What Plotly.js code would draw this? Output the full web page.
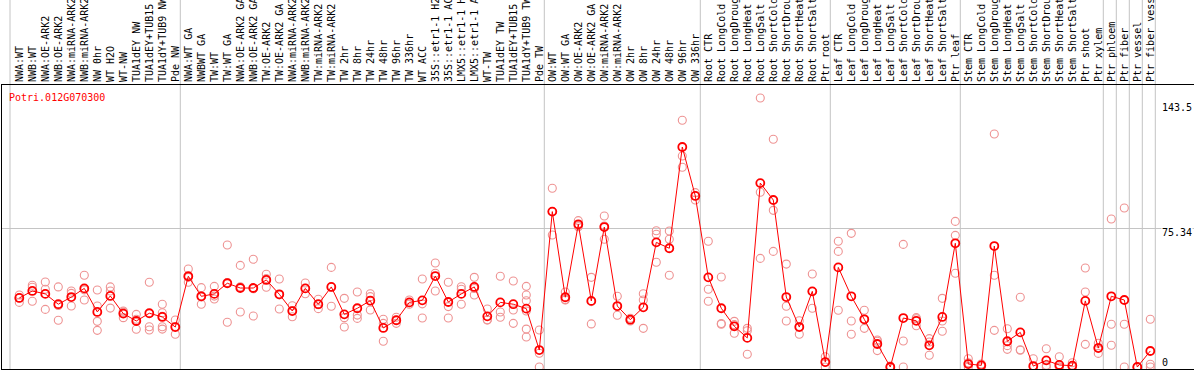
<!DOCTYPE html>
<html><head><meta charset="utf-8">
<script src="https://cdn.plot.ly/plotly-3.0.1.min.js"></script>
<style>html,body{margin:0;padding:0;background:#fff;overflow:hidden}#chart{width:1194px;height:370px}</style>
</head><body><div id="chart"></div>
<script>
const categories = [
 'NWA:WT','NWB:WT','NWA:OE-ARK2','NWB:OE-ARK2','NWA:miRNA-ARK2','NWB:miRNA-ARK2','NW 0hr','WT H2O','WT-NW','TUA1dEY NW','TUA1dEY+TUB15 NW','TUA1dY+TUB9 NW','Pde NW',
 'NWA:WT GA','NWBWT GA','TW:WT','TW:WT GA','NWA:OE-ARK2 GA','NWB:OE-ARK2 GA','TW:OE-ARK2','TW:OE-ARK2 GA','NWA:miRNA-ARK2 GA','NWB:miRNA-ARK2 GA','TW:miRNA-ARK2','TW:miRNA-ARK2 GA',
 'TW 2hr','TW 8hr','TW 24hr','TW 48hr','TW 96hr','TW 336hr','WT ACC','35S::etr1-1 H2O','35S::etr1-1 ACC','LMX5::etr1-1 H2O','LMX5::etr1-1 ACC','WT-TW','TUA1dEY TW','TUA1dEY+TUB15 TW','TUA1dY+TUB9 TW','Pde TW',
 'OW:WT','OW:WT GA','OW:OE-ARK2','OW:OE-ARK2 GA','OW:miRNA-ARK2','OW:miRNA-ARK2 GA','OW 2hr','OW 8hr','OW 24hr','OW 48hr','OW 96hr','OW 336hr',
 'Root CTR','Root LongCold','Root LongDrought','Root LongHeat','Root LongSalt','Root ShortCold','Root ShortDrought','Root ShortHeat','Root ShortSalt','Ptr root',
 'Leaf CTR','Leaf LongCold','Leaf LongDrought','Leaf LongHeat','Leaf LongSalt','Leaf ShortCold','Leaf ShortDrought','Leaf ShortHeat','Leaf ShortSalt','Ptr leaf',
 'Stem CTR','Stem LongCold','Stem LongDrought','Stem LongHeat','Stem LongSalt','Stem ShortCold','Stem ShortDrought','Stem ShortHeat','Stem ShortSalt','Ptr shoot','Ptr xylem',
 'Ptr phloem','Ptr fiber','Ptr vessel','Ptr fiber vessel'
];
const groupSizes = [13, 28, 12, 10, 10, 11, 1, 1, 1, 1];
const meanValues = [
 37.5, 41.3, 39.7, 34.1, 38.0, 42.7, 29.9, 38.6, 29.0, 25.0, 29.2, 27.2, 21.7,
 49.3, 38.4, 39.7, 45.5, 42.9, 42.9, 47.3, 39.5, 30.4, 42.7, 34.1, 43.5, 28.6, 31.9, 36.0, 21.2, 25.4, 35.1, 36.2, 49.4, 35.3, 39.7, 43.5, 27.5, 35.1, 34.1, 31.7, 9.2,
 84.4, 37.9, 77.5, 35.9, 76.0, 33.1, 25.7, 32.4, 67.7, 64.5, 119.5, 92.9,
 48.7, 31.9, 22.1, 15.8, 99.9, 90.7, 38.0, 21.7, 41.1, 2.7,
 54.1, 38.4, 25.9, 12.5, 0.0, 26.6, 25.1, 11.8, 27.2, 67.2,
 1.6, 0.9, 65.7, 14.0, 18.8, 0.5, 3.6, 1.1, 0.7, 35.9, 10.3,
 38.4, 36.4, 0.0, 8.7
];
const replicateValues = [
 [39.1,37.5,35.1],[44.4,43.3,35.7],[46.2,42.2,31.3],[43.5,33.4,25.4],[41.3,40.0,33.1],[49.8,41.9,36.4],[41.8,33.1,24.8,19.9],[43.5,41.3,32.0],[30.4,29.8,26.8],[28.6,25.9,20.5],[46.0,21.9,20.1],[34.1,29.5,27.5,21.9,20.6],[25.5,21.8,17.8],
 [53.2,48.7,46.0],[43.1,38.0,34.1],[43.8,38.5,36.9],[66.3,45.9,24.3],[55.2,43.6,29.9],[58.5,42.5,27.7],[50.4,48.0,43.3],[47.8,39.2,31.5],[33.3,30.6,27.3],[45.6,42.7,39.8],[36.8,33.8,31.7],[54.1,43.3,33.0],
 [37.3,26.8,21.7],[40.7,28.2,26.4],[39.8,38.2,31.0],[25.9,23.7,14.0],[27.0,25.4,23.7],[36.4,34.9,34.1],[47.8,34.3,26.6],[56.5,50.9,41.3],[46.0,32.8,26.6],[43.6,42.2,34.1],[48.7,42.6,39.1],[31.5,25.6,25.5],[49.3,29.9,27.0],[46.7,31.0,23.7],[43.8,39.1,36.0,30.4,20.6,16.3],[20.1,7.5,0],
 [97.1,84.4,71.7],[40.7,36.6,36.4],[79.5,76.8,76.2],[48.7,35.5,23.4],[82.0,76.6,69.4],[38.4,32.9,28.1],[26.5,25.7,25.0],[39.8,36.4,21.0],[74.0,72.1,56.9],[73.9,69.4,49.8],[134.0,114.6,108.5],[94.7,93.0,90.7],
 [68.3,42.2,35.7],[48.9,23.6,23.2],[24.8,23.0,18.3],[21.0,19.7,6.9],[146.1,94.9,59.0],[123.7,85.1,62.8],[55.9,33.0,25.0],[25.1,22.0,17.8],[50.5,41.0,31.9],[5.6,2.5,0],
 [68.3,62.8,30.8],[72.6,25.0,17.8],[30.8,26.0,21.0],[14.7,14.0,8.9],[0.5,0,0],[66.6,14.1,0],[26.8,26.2,22.4],[15.4,13.6,6.4],[37.3,25.0,19.4],[79.1,71.5,50.9],
 [4.5,2.3,0],[1.6,0.9,0],[126.6,49.8,19.9],[20.8,11.6,9.6],[37.9,9.4,9.1],[4.5,0,0],[9.9,0.9,0],[5.6,0,0],[2.3,0,0],[53.8,40.7,12.3],[12.9,10.6,7.4],
 [80.4,23.2,11.8],[86.4,23.2,0],[0,0,0],[25.9,1.5,0]
];
const axisTickValues = [143.5, 75.34, 0];
const axisTickLabels = ['143.5', '75.34', '0'];
const geneTitle = 'Potri.012G070300';

const idx = categories.map((_, i) => i);
const repX = [], repY = [];
replicateValues.forEach((arr, i) => arr.forEach(v => { repX.push(i); repY.push(v); }));

// layout geometry
const W = 1194, H = 370, mL = 2, mR = 0, mT = 85, mB = 1;
const step = 13, firstPx = 19.3;
const xr0 = -(firstPx - mL) / step;
const xr1 = xr0 + (W - mL - mR) / step;
const zeroPx = 367, gridPx = 228.3;
const pxPerUnit = (zeroPx - gridPx) / axisTickValues[1];
const yr0 = -(H - mB - zeroPx) / pxPerUnit;
const yr1 = (zeroPx - mT) / pxPerUnit;

// group separators
const sepColor = '#c4c4c4';
const bounds = [-0.715];
let acc = 0;
groupSizes.forEach(n => { acc += n; bounds.push(acc - 1 + 5 / step); });
const yTop = 1 + mT / (H - mT - mB) + 0.02;
const shapes = bounds.map(b => ({type:'line', xref:'x', yref:'paper', x0:b, x1:b, y0:0, y1:yTop, line:{color:sepColor, width:1}, layer:'below'}));

const mono = 'DejaVu Sans Mono, monospace';
const annotations = [{
  text: geneTitle, xref:'paper', yref:'paper', x:0, y:1, xanchor:'left', yanchor:'middle',
  xshift:5, yshift:-12, showarrow:false, font:{family:mono, size:10, color:'#ff0000'}
}];
const shiftsY = [-5, -4, 5];
axisTickValues.forEach((v, k) => annotations.push({
  text: axisTickLabels[k], xref:'x', yref:'y', x: categories.length, y: v, xanchor:'left', yanchor:'middle',
  xshift:-2, yshift: shiftsY[k], showarrow:false, bgcolor: k === 1 ? '#ffffff' : 'rgba(0,0,0,0)',
  borderpad:0, font:{family:mono, size:10, color:'#000'}
}));

const traces = [
 {type:'scatter', mode:'markers', x:repX, y:repY, hoverinfo:'skip',
  marker:{symbol:'circle-open', size:8, color:'#ee9393', line:{width:1.1}}},
 {type:'scatter', mode:'lines+markers', x:idx, y:meanValues,
  line:{color:'#ff0000', width:1},
  marker:{symbol:'circle-open', size:8, color:'#ff0000', line:{width:1.8}}}
];

const layout = {
  width:W, height:H, margin:{l:mL, r:mR, t:mT, b:mB, pad:0},
  paper_bgcolor:'#fff', plot_bgcolor:'#fff', showlegend:false,
  xaxis:{type:'linear', range:[xr0, xr1], side:'top', tickmode:'array', tickvals:idx, ticktext:categories,
    tickangle:-90, tickfont:{family:mono, size:10, color:'#000'}, ticks:'', showgrid:false, zeroline:false,
    showline:true, linecolor:'#000', linewidth:1, mirror:true, automargin:false, fixedrange:true},
  yaxis:{range:[yr0, yr1], tickmode:'array', tickvals:[axisTickValues[1]], showticklabels:false, ticks:'',
    showgrid:true, gridcolor:sepColor, gridwidth:1, zeroline:false, showline:true, linecolor:'#000', linewidth:1,
    mirror:false, automargin:false, fixedrange:true},
  shapes: shapes, annotations: annotations
};
Plotly.newPlot('chart', traces, layout, {displayModeBar:false, staticPlot:true});
</script></body></html>
